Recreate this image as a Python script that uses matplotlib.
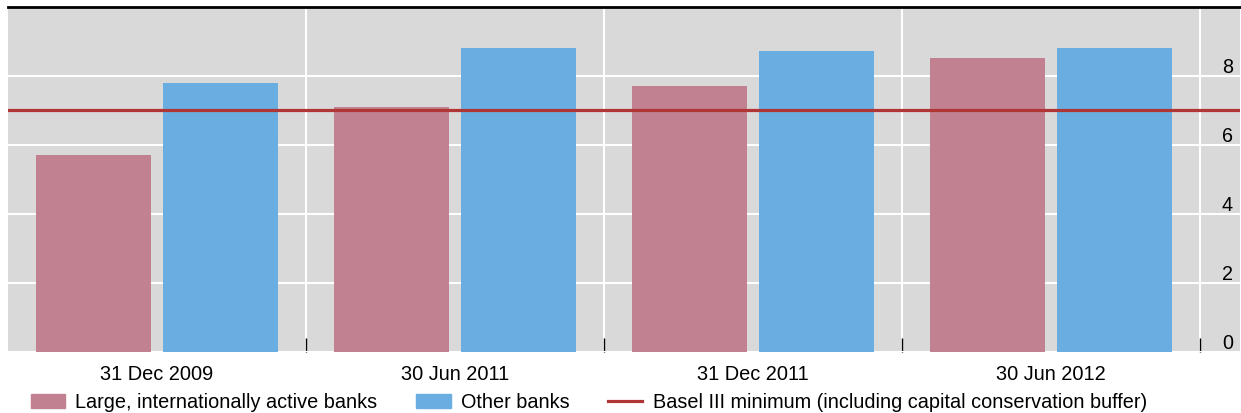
import matplotlib
matplotlib.use("Agg")
import matplotlib.pyplot as plt
import numpy as np
from matplotlib.lines import Line2D
from matplotlib.patches import Patch

categories = ["31 Dec 2009", "30 Jun 2011", "31 Dec 2011", "30 Jun 2012"]
large_banks = [5.7, 7.1, 7.7, 8.5]
other_banks = [7.8, 8.8, 8.7, 8.8]
basel_min = 7.0
yticks = [0, 2, 4, 6, 8]

PINK = "#c28190"
BLUE = "#6aade0"
RED = "#b03535"
GRAY = "#d9d9d9"

plt.rcParams['font.family'] = ['Liberation Sans', 'DejaVu Sans']

fig = plt.figure(figsize=(12.41, 4.14), dpi=100)
W, H = 1241, 414
ax = fig.add_axes([8 / W, (H - 353) / H, (1240 - 8) / W, (353 - 7.5) / H])
ax.set_facecolor(GRAY)

x = np.arange(len(categories))
width = 0.383
off = 0.213
ax.bar(x - off, large_banks, width, color=PINK, zorder=2)
ax.bar(x + off, other_banks, width, color=BLUE, zorder=2)
ax.axhline(basel_min, color=RED, lw=2.3, zorder=3)

ax.set_xlim(-0.5, 3.5 + 40 / 298)
ax.set_ylim(0, 10)

ax.set_xticks(x)
ax.set_xticklabels(categories, fontsize=14.4)
ax.set_xticks(x + 0.5, minor=True)
ax.tick_params(axis='x', which='major', length=0, pad=9)
ax.tick_params(axis='x', which='minor', direction='in', length=10, width=1, color='black')

ax.set_yticks(yticks)
ax.set_yticklabels([str(v) for v in yticks], fontsize=14.2)
ax.yaxis.tick_right()
ax.tick_params(axis='y', which='major', length=0, pad=-5)
for lab in ax.get_yticklabels():
    lab.set_horizontalalignment('right')
    lab.set_verticalalignment('bottom')

ax.grid(axis='y', which='major', color='white', lw=1.5, zorder=1)
ax.grid(axis='x', which='minor', color='white', lw=1.5, zorder=1)
ax.set_axisbelow(True)

for s in ['left', 'right', 'bottom']:
    ax.spines[s].set_visible(False)
ax.spines['top'].set_color('black')
ax.spines['top'].set_linewidth(2)

handles = [Patch(color=PINK, label="Large, internationally active banks"),
           Patch(color=BLUE, label="Other banks"),
           Line2D([0], [0], color=RED, lw=2.3, label="Basel III minimum (including capital conservation buffer)")]
fig.legend(handles=handles, loc='center left', bbox_to_anchor=(31 / W, (H - 403) / H), ncol=3,
           frameon=False, fontsize=14.3, handlelength=1.72, handleheight=0.7,
           handletextpad=0.52, columnspacing=1.95, borderpad=0, borderaxespad=0)

fig.savefig("out.png", dpi=100)
